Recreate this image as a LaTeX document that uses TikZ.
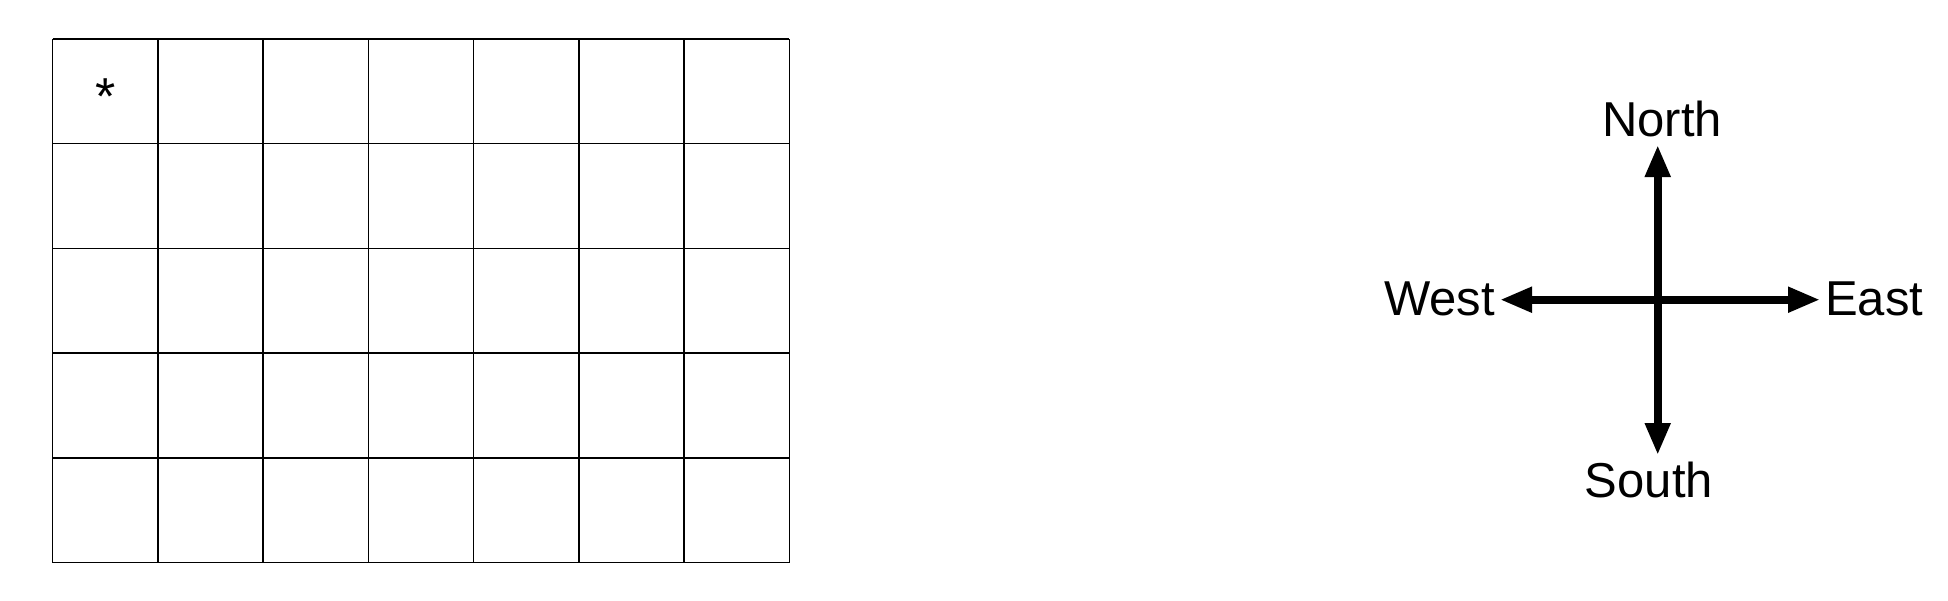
\documentclass[tikz,border=0pt]{standalone}
\usepackage{fontspec}
\setmainfont{Liberation Sans}
\usetikzlibrary{arrows.meta}
\begin{document}
\begin{tikzpicture}[x=1pt,y=-1pt,
  gridline/.style={line width=1.5pt,black},
  compass/.style={line width=7.7pt,black,-{Triangle[length=32pt,width=24pt]}},
  dirlabel/.style={font=\fontsize{49}{49}\selectfont,inner sep=0pt},
  starlabel/.style={font=\fontsize{52}{52}\selectfont,inner sep=0pt}]
\useasboundingbox (0,0) rectangle (1948,600);
% grid
\foreach \i in {0,...,7} {
  \draw[gridline] ({52.7+\i*105.23},39) -- ({52.7+\i*105.23},562.7);
}
\foreach \j in {0,...,5} {
  \draw[gridline] (52.7,{39+\j*104.74}) -- (789.3,{39+\j*104.74});
}
\node[starlabel,anchor=base] (star) at (106,114) {*};
% compass
\coordinate (c) at (1657.7,299.7);
\coordinate (ntip) at (1657.7,145);
\coordinate (stip) at (1657.7,455);
\coordinate (wtip) at (1500,299.7);
\coordinate (etip) at (1820,299.7);
\draw[compass] (c) -- (ntip);
\draw[compass] (c) -- (stip);
\draw[compass] (c) -- (wtip);
\draw[compass] (c) -- (etip);
\node[dirlabel,anchor=base] (north) at (1662,136.7) {North};
\node[dirlabel,anchor=base] (south) at (1649,497) {South};
\node[dirlabel,anchor=base east] (west) at (1495,315) {West};
\node[dirlabel,anchor=base west] (east) at (1825,315) {East};
\end{tikzpicture}
\end{document}
